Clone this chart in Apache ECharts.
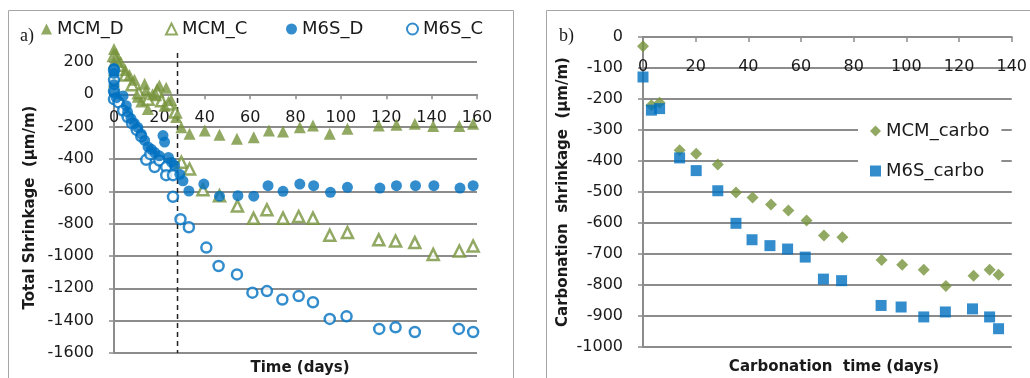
<!DOCTYPE html>
<html>
<head>
<meta charset="utf-8">
<script src="https://cdn.jsdelivr.net/npm/echarts@6/dist/echarts.min.js"></script>
<style>html,body{margin:0;padding:0;background:#fff}#c{width:1030px;height:378px}</style>
</head>
<body>
<div id="c"></div>
<script>
// ---- Data (left chart: Total shrinkage, [day, µm/m]) ----
const MCM_D = [[0,280],[0,200],[0,150],[0,80],[1,250],[3,200],[5,150],[6.8,120],[9,90],[10.5,-15],[12,-45],[13.5,65],[14.2,25],[14.9,-90],[17,0],[18.6,-5],[20,55],[22.3,-70],[23,40],[25.2,-35],[27.4,-140],
  [29.7,-203],[33.3,-244],[40,-224],[46.5,-250],[54.2,-275],[61.6,-265],[68.3,-224],[74.5,-230],[81.9,-203],[87.7,-193],[95.1,-244],[102.9,-213],[116.7,-193],[124.5,-188],[132.6,-182],[140.7,-196],[152.2,-196],[158.3,-182]];
const MCM_C = [[0,240],[2,180],[5,120],[8,60],[11,10],[15,-30],[19,20],[21,-40],[24,-60],[27,-110],
  [29.7,-420],[33.3,-462],[39.2,-590],[46.5,-627],[54.4,-690],[61.5,-767],[67.4,-714],[74.5,-766],[81.4,-756],[87.7,-766],[95.1,-872],[102.9,-855],[116.7,-900],[124.1,-907],[132.6,-917],[140.7,-990],[152.2,-969],[158.3,-938]];
const M6S_D = [[0,160],[0,130],[0,60],[0,10],[1,-20],[4,-10],[5.4,-70],[6,-110],[7.5,-150],[9,-180],[10.5,-205],[12,-245],[13.5,-285],[15,-325],[16.5,-340],[18,-360],[20,-380],[21.6,-255],[22.3,-295],[24,-390],[25.3,-420],[26.7,-440],[29,-495],[30.4,-535],
  [33,-598],[39.6,-555],[46.5,-630],[54.6,-627],[61.6,-630],[67.9,-565],[74.5,-600],[81.9,-555],[88,-565],[95.4,-606],[102.9,-575],[117.2,-580],[124.5,-565],[132.9,-565],[141,-565],[152.5,-580],[158.3,-565]];
const M6S_C = [[0,150],[0,90],[0,20],[0,-30],[2,-50],[4,-100],[6,-140],[8,-180],[10,-220],[12,-260],[14.2,-405],[16,-370],[17.9,-450],[20,-410],[23,-450],[23,-500],[26,-500],[26,-634],[29.3,-772],[33,-822],[40.7,-948],[46.1,-1062],[54.2,-1114],[61,-1227],[67.4,-1217],[74.2,-1269],[81.4,-1248],[87.7,-1286],[95.1,-1389],[102.5,-1373],[116.9,-1451],[124.1,-1441],[132.6,-1470],[152,-1451],[158.3,-1470]];
const CARBO_START = [[28,255],[28,-1600]];

// ---- Data (right chart: Carbonation shrinkage) ----
const MCM_carbo = [[0,-30],[3.2,-220],[6.3,-212],[13.9,-365],[20.2,-377],[28.4,-411],[35.3,-502],[41.6,-518],[48.6,-540],[55.2,-560],[62.1,-592],[68.7,-640],[75.7,-646],[90.6,-719],[98.4,-735],[106.6,-751],[115,-803],[125.5,-770],[131.6,-751],[135,-767]];
const M6S_carbo = [[0,-129],[3.2,-236],[6.3,-231],[13.9,-390],[20.2,-431],[28.4,-496],[35.3,-601],[41.4,-654],[48.2,-673],[54.9,-684],[61.6,-710],[68.5,-781],[75.4,-786],[90.4,-866],[98,-871],[106.6,-903],[114.8,-887],[125.1,-877],[131.6,-903],[135,-941]];

// ---- Names ----
const leftNames = ['MCM_D','MCM_C','M6S_D','M6S_C'];
const rightNames = ['MCM_carbo','M6S_carbo'];

const GREEN = '#77933C', BLUE = '#0070C0', GRID = '#8c8c8c';
const FONT = 'DejaVu Sans';

const chart = echarts.init(document.getElementById('c'), null, {renderer:'canvas'});
const plain = v => String(v);

// grid geometry
const G0 = {left:114, top:62, width:363, height:291};
const G1 = {left:643, top:37, width:370, height:310};
const Y0 = {min:-1600, max:200}, Y1 = {min:-1000, max:0};
// offset that places the x-axis (with its labels below) at y = 0
const off0 = -G0.height * (0 - Y0.min) / (Y0.max - Y0.min);
const off1 = -G1.height * (0 - Y1.min) / (Y1.max - Y1.min);

function xAx(gridIndex, max, margin, offset){
  return {type:'value', gridIndex, min:0, max, interval:20, position:'bottom', offset,
    axisLine:{show:true, onZero:false, lineStyle:{color:GRID, width:2}},
    axisTick:{show:true, length:5, inside:false, lineStyle:{color:GRID, width:1.5}},
    axisLabel:{color:'#1a1a1a', fontFamily:FONT, fontSize:16, margin, formatter:plain},
    splitLine:{show:false}};
}
function yAx(gridIndex, r, interval, name, gap){
  return {type:'value', gridIndex, min:r.min, max:r.max, interval,
    name, nameLocation:'middle', nameRotate:90, nameGap:gap,
    nameTextStyle:{fontFamily:FONT, fontSize:15, fontWeight:'bold', color:'#1a1a1a'},
    axisLine:{show:true, onZero:false, lineStyle:{color:GRID, width:2}},
    axisTick:{show:true, length:5, lineStyle:{color:GRID, width:1.5}},
    axisLabel:{color:'#1a1a1a', fontFamily:FONT, fontSize:16, margin:20, formatter:plain},
    splitLine:{show:true, lineStyle:{color:GRID, width:2}}};
}

const legendText = {fontFamily:FONT, fontSize:18, color:'#1a1a1a'};
const leftLegendPos = [41, 165, 286, 406];

chart.setOption({
  animation:false,
  backgroundColor:'#fff',
  grid:[G0, G1],
  xAxis:[xAx(0,160,16,off0), xAx(1,140,22,off1)],
  yAxis:[yAx(0,Y0,200,'Total Shrinkage  (µm/m)',76), yAx(1,Y1,100,'Carbonation  shrinkage  (µm/m)',72)],
  title:[
    {text:'Time (days)', left:295, top:356, textAlign:'center', textStyle:{fontFamily:FONT, fontSize:15, fontWeight:'bold', color:'#1a1a1a'}},
    {text:'Carbonation  time (days)', left:829, top:355, textAlign:'center', textStyle:{fontFamily:FONT, fontSize:15, fontWeight:'bold', color:'#1a1a1a'}},
    {text:'a)', left:15, top:22, textStyle:{fontFamily:'Liberation Serif', fontSize:18, fontWeight:'normal', color:'#1a1a1a'}},
    {text:'b)', left:554, top:22, textStyle:{fontFamily:'Liberation Serif', fontSize:18, fontWeight:'normal', color:'#1a1a1a'}}
  ],
  legend: leftNames.map((n,i)=>({data:[n], left:leftLegendPos[i], top:20, itemWidth:11, itemHeight:11, itemGap:0, padding:0, textStyle:legendText}))
    .concat([{data:rightNames, orient:'vertical', left:858, top:114, itemWidth:11, itemHeight:11, itemGap:22,
      backgroundColor:'#fff', padding:[8,12,8,12], textStyle:legendText}]),
  graphic:[
    {type:'rect', shape:{x:8.5, y:10.5, width:505, height:380}, style:{fill:null, stroke:'#a6a6a6', lineWidth:1}, z:-1},
    {type:'rect', shape:{x:546.5, y:10.5, width:500, height:380}, style:{fill:null, stroke:'#a6a6a6', lineWidth:1}, z:-1}
  ],
  series:[
    {name:'MCM_C', type:'scatter', xAxisIndex:0, yAxisIndex:0, data:MCM_C, symbol:'triangle', symbolSize:11, clip:false, z:2,
      itemStyle:{color:'#fff', borderColor:GREEN, borderWidth:2.5}},
    {name:'MCM_D', type:'scatter', xAxisIndex:0, yAxisIndex:0, data:MCM_D, symbol:'triangle', symbolSize:12, clip:false, z:3,
      itemStyle:{color:GREEN}},
    {name:'M6S_C', type:'scatter', xAxisIndex:0, yAxisIndex:0, data:M6S_C, symbol:'circle', symbolSize:10, clip:false, z:4,
      itemStyle:{color:'#fff', borderColor:BLUE, borderWidth:2.5}},
    {name:'M6S_D', type:'scatter', xAxisIndex:0, yAxisIndex:0, data:M6S_D, symbol:'circle', symbolSize:11, clip:false, z:5,
      itemStyle:{color:BLUE}},
    {name:'carbonation start', type:'line', xAxisIndex:0, yAxisIndex:0, data:CARBO_START, symbol:'none', clip:false, z:1,
      lineStyle:{color:'#222', width:1.5, type:[5,4]}},
    {name:'MCM_carbo', type:'scatter', xAxisIndex:1, yAxisIndex:1, data:MCM_carbo, symbol:'diamond', symbolSize:12, clip:false,
      itemStyle:{color:GREEN}},
    {name:'M6S_carbo', type:'scatter', xAxisIndex:1, yAxisIndex:1, data:M6S_carbo, symbol:'rect', symbolSize:11, clip:false,
      itemStyle:{color:BLUE}}
  ]
});
</script>
</body>
</html>
